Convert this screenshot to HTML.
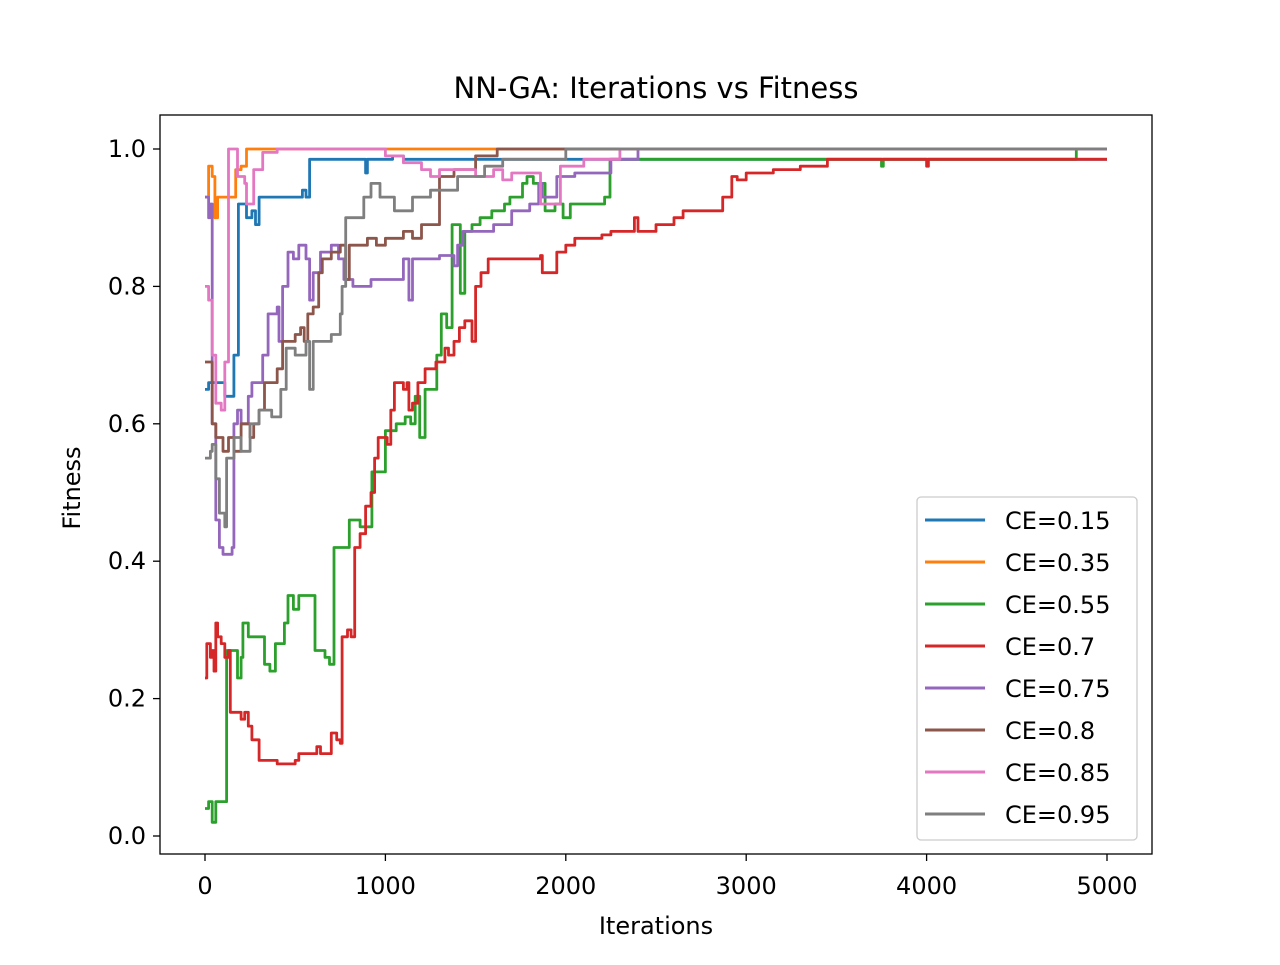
<!DOCTYPE html>
<html><head><meta charset="utf-8"><style>
body{margin:0;background:#fff;}
svg text{font-family:"DejaVu Sans","Liberation Sans",sans-serif;fill:#000;}
</style></head><body>
<svg id="chart" width="1280" height="960" xmlns="http://www.w3.org/2000/svg">
<rect width="1280" height="960" fill="#fff"/>
<text x="656" y="98" font-size="29" text-anchor="middle">NN-GA: Iterations vs Fitness</text>
<g id="series"></g>
<rect x="160" y="115" width="992" height="739" fill="none" stroke="#000" stroke-width="1.3"/>
<g id="axes"></g>
<text x="656" y="934" font-size="24" text-anchor="middle">Iterations</text>
<text x="80" y="488" font-size="24" text-anchor="middle" transform="rotate(-90 80 488)">Fitness</text>
<g id="legend"></g>
</svg>
<script>
const xTicks=[0,1000,2000,3000,4000,5000];
const yTicks=[0.0,0.2,0.4,0.6,0.8,1.0];
const seriesNames=["CE=0.15","CE=0.35","CE=0.55","CE=0.7","CE=0.75","CE=0.8","CE=0.85","CE=0.95"];
const colors=["#1f77b4","#ff7f0e","#2ca02c","#d62728","#9467bd","#8c564b","#e377c2","#7f7f7f"];
const s015=[[0,0.65],[20,0.66],[100,0.66],[110,0.64],[150,0.64],[160,0.70],[180,0.70],[185,0.92],[230,0.90],[260,0.91],[280,0.89],[300,0.93],[450,0.93],[520,0.93],[540,0.94],[560,0.93],[580,0.985],[860,0.985],[890,0.965],[900,0.985],[1040,0.99],[1100,0.985],[5000,0.985]];
const s035=[[0,0.93],[20,0.975],[40,0.96],[55,0.90],[70,0.93],[160,0.93],[170,0.97],[200,0.975],[230,1.0],[5000,1.0]];
const s055=[[0,0.04],[20,0.05],[40,0.02],[60,0.05],[110,0.05],[120,0.27],[170,0.27],[180,0.23],[200,0.26],[210,0.31],[240,0.29],[300,0.29],[330,0.25],[360,0.24],[390,0.28],[440,0.31],[460,0.35],[490,0.33],[520,0.35],[590,0.35],[610,0.27],[665,0.26],[690,0.25],[710,0.25],[715,0.42],[775,0.42],[800,0.46],[860,0.45],[915,0.45],[925,0.53],[985,0.53],[1000,0.59],[1060,0.60],[1110,0.61],[1140,0.60],[1165,0.64],[1190,0.58],[1220,0.65],[1285,0.70],[1310,0.76],[1340,0.74],[1370,0.89],[1400,0.89],[1415,0.79],[1440,0.88],[1480,0.89],[1525,0.90],[1590,0.91],[1660,0.92],[1690,0.93],[1760,0.95],[1785,0.96],[1820,0.95],[1885,0.91],[1940,0.92],[1985,0.90],[2025,0.92],[2215,0.93],[2245,0.985],[3740,0.985],[3750,0.975],[3760,0.985],[4820,0.985],[4830,1.0],[5000,1.0]];
const s07=[[0,0.23],[10,0.28],[30,0.26],[40,0.27],[50,0.24],[60,0.31],[70,0.29],[90,0.28],[110,0.26],[130,0.27],[140,0.18],[200,0.17],[220,0.18],[240,0.16],[260,0.14],[290,0.14],[300,0.11],[380,0.11],[400,0.105],[500,0.11],[520,0.12],[600,0.12],[620,0.13],[640,0.12],[680,0.12],[700,0.15],[730,0.14],[750,0.135],[760,0.29],[790,0.30],[810,0.29],[830,0.42],[860,0.44],[890,0.48],[920,0.50],[940,0.55],[960,0.58],[1010,0.57],[1030,0.62],[1050,0.66],[1100,0.65],[1120,0.66],[1130,0.62],[1150,0.63],[1180,0.66],[1220,0.68],[1280,0.69],[1330,0.71],[1350,0.70],[1380,0.72],[1410,0.74],[1440,0.75],[1480,0.72],[1500,0.80],[1530,0.82],[1570,0.84],[1860,0.845],[1870,0.82],[1920,0.82],[1950,0.85],[2000,0.86],[2050,0.87],[2200,0.875],[2250,0.88],[2370,0.88],[2380,0.90],[2400,0.88],[2500,0.89],[2600,0.90],[2650,0.91],[2850,0.91],[2870,0.93],[2920,0.96],[2950,0.955],[3000,0.965],[3150,0.97],[3300,0.975],[3450,0.985],[3990,0.985],[4000,0.975],[4010,0.985],[5000,0.985]];
const s075=[[0,0.93],[20,0.90],[30,0.92],[40,0.60],[60,0.46],[80,0.42],[100,0.41],[150,0.42],[160,0.60],[180,0.62],[200,0.60],[240,0.64],[260,0.66],[300,0.66],[320,0.70],[350,0.76],[400,0.77],[410,0.72],[430,0.80],[460,0.85],[490,0.84],[520,0.86],[560,0.84],[580,0.78],[600,0.82],[640,0.85],[700,0.86],[740,0.84],[770,0.81],[820,0.80],[920,0.81],[1100,0.84],[1130,0.78],[1150,0.84],[1300,0.845],[1380,0.83],[1400,0.86],[1430,0.88],[1600,0.89],[1700,0.91],[1800,0.92],[1850,0.95],[1870,0.93],[1950,0.96],[2050,0.965],[2250,0.985],[2400,1.0],[5000,1.0]];
const s08=[[0,0.69],[30,0.69],[40,0.60],[60,0.58],[100,0.56],[130,0.58],[160,0.56],[200,0.60],[250,0.58],[270,0.60],[300,0.62],[330,0.66],[400,0.68],[430,0.72],[500,0.73],[530,0.74],[550,0.72],[570,0.76],[600,0.77],[630,0.82],[650,0.84],[700,0.85],[750,0.86],[780,0.81],[800,0.86],[900,0.87],[950,0.86],[1000,0.87],[1100,0.88],[1150,0.87],[1200,0.89],[1300,0.96],[1380,0.97],[1500,0.99],[1620,1.0],[5000,1.0]];
const s085=[[0,0.80],[20,0.78],[40,0.70],[60,0.63],[90,0.62],[110,0.69],[130,1.0],[160,1.0],[180,0.96],[220,0.95],[230,0.92],[270,0.97],[300,0.97],[320,0.995],[400,1.0],[900,1.0],[1000,0.99],[1100,0.98],[1200,0.97],[1250,0.96],[1300,0.97],[1500,0.96],[1600,0.97],[1650,0.955],[1700,0.965],[1860,0.92],[1960,0.92],[1970,0.975],[2100,0.985],[2300,1.0],[5000,1.0]];
const s095=[[0,0.55],[30,0.56],[40,0.57],[60,0.52],[80,0.47],[110,0.45],[120,0.55],[160,0.58],[200,0.56],[250,0.60],[300,0.62],[370,0.61],[420,0.65],[450,0.71],[500,0.70],[560,0.72],[580,0.65],[600,0.72],[700,0.73],[750,0.76],[760,0.80],[780,0.90],[850,0.90],[880,0.93],[920,0.95],[970,0.93],[1050,0.91],[1150,0.93],[1250,0.94],[1400,0.96],[1550,0.975],[1650,0.985],[1990,0.985],[2000,1.0],[5000,1.0]];
const allSeries=[s015,s035,s055,s07,s075,s08,s085,s095];

const X=v=>205+v*(902/5000);
const Y=v=>836-v*687;
const NS="http://www.w3.org/2000/svg";
const mk=(t,a)=>{const e=document.createElementNS(NS,t);for(const k in a)e.setAttribute(k,a[k]);return e;};
const sg=document.getElementById('series');
allSeries.forEach((s,i)=>{
  let d='';
  s.forEach((p,j)=>{
    if(j===0){d+='M'+X(p[0]).toFixed(1)+','+Y(p[1]).toFixed(1);}
    else{d+='H'+X(p[0]).toFixed(1)+'V'+Y(p[1]).toFixed(1);}
  });
  const el=mk('path',{d:d,fill:'none',stroke:colors[i],'stroke-width':2.8,'stroke-linejoin':'round'});
  
  
  sg.appendChild(el);
});
const ax=document.getElementById('axes');
xTicks.forEach(t=>{
  const l=mk('line',{x1:X(t),x2:X(t),y1:854,y2:861,stroke:'#000','stroke-width':1.3});
  
  
  ax.appendChild(l);
  const tx=mk('text',{x:X(t),y:894,'font-size':24,'text-anchor':'middle'});
  tx.textContent=t;
  
  
  ax.appendChild(tx);
});
yTicks.forEach(t=>{
  const l=mk('line',{x1:153,x2:160,y1:Y(t),y2:Y(t),stroke:'#000','stroke-width':1.3});
  
  
  ax.appendChild(l);
  const tx=mk('text',{x:146,y:Y(t)+8,'font-size':24,'text-anchor':'end'});
  tx.textContent=t.toFixed(1);
  
  
  ax.appendChild(tx);
});
const lg=document.getElementById('legend');
const box=mk('rect',{x:917,y:497,width:220,height:343,rx:4,fill:'#fff','fill-opacity':0.8,stroke:'#ccc','stroke-width':1.3});


lg.appendChild(box);
seriesNames.forEach((n,i)=>{
  const y=520+i*42;
  const l=mk('line',{x1:925,x2:985,y1:y,y2:y,stroke:colors[i],'stroke-width':3});
  
  
  lg.appendChild(l);
  const tx=mk('text',{x:1005,y:y+9,'font-size':24});
  tx.textContent=n;
  
  
  lg.appendChild(tx);
});
</script>
</body></html>
